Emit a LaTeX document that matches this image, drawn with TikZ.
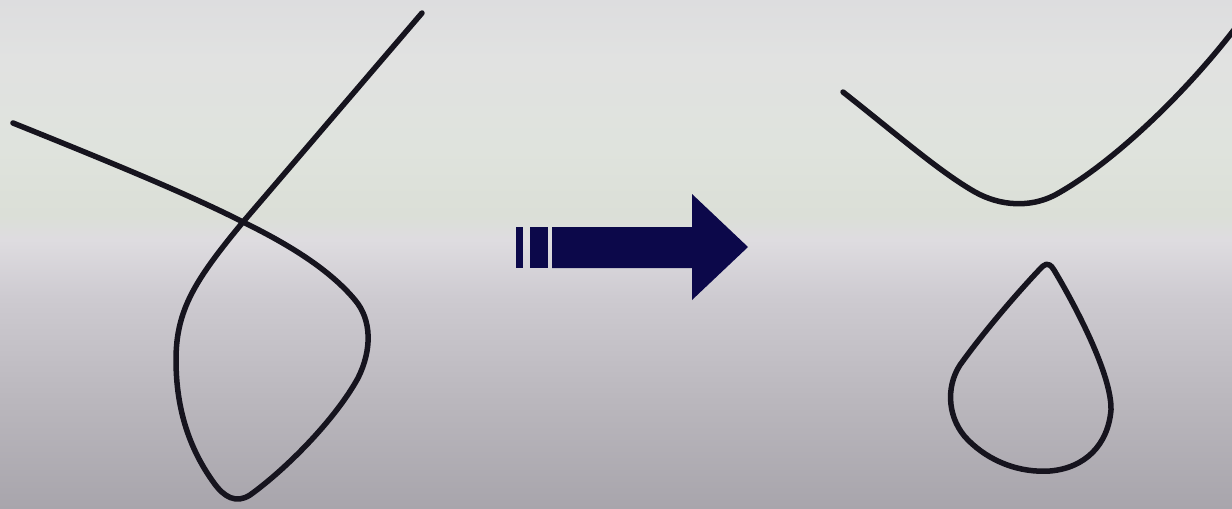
\documentclass[tikz,border=0pt]{standalone}
\definecolor{bgT}{RGB}{221,221,223}
\definecolor{bgA}{RGB}{225,226,225}
\definecolor{bgB}{RGB}{223,227,221}
\definecolor{bgC}{RGB}{219,223,215}
\definecolor{bgD}{RGB}{222,220,224}
\definecolor{bgE}{RGB}{205,202,208}
\definecolor{bgF}{RGB}{186,183,189}
\definecolor{bgG}{RGB}{168,165,172}
\definecolor{wire}{RGB}{22,20,30}
\definecolor{navy}{RGB}{12,8,74}
\pgfdeclareverticalshading{bgshade}{100bp}{%
 color(0bp)=(bgG);
 color(25bp)=(bgG);
 color(35.6bp)=(bgF);
 color(45.5bp)=(bgE);
 color(51.4bp)=(bgD);
 color(53.8bp)=(bgC);
 color(60.2bp)=(bgB);
 color(69.1bp)=(bgA);
 color(75bp)=(bgT);
 color(100bp)=(bgT)}
\tikzset{
  wirestyle/.style={draw=wire, line width=0.11cm, line cap=round, line join=round},
  arrowfill/.style={fill=navy, draw=none}
}
\begin{document}
\begin{tikzpicture}[x=0.02cm, y=-0.02cm]
\useasboundingbox (0,0) rectangle (1232,508);
\shade[shading=bgshade] (0,0) rectangle (1232,508);
\begin{scope}
\clip (0,0) rectangle (1232,508);
% left: crossing strand with loop
\draw[wirestyle] (13,123) .. controls (110,162) and (190,195) .. (243,222)
  .. controls (290,245) and (330,270) .. (355,300)
  .. controls (372,320) and (372,350) .. (358,378)
  .. controls (335,420) and (285,470) .. (250,495)
  .. controls (236,504) and (224,497) .. (214,483)
  .. controls (190,450) and (176,410) .. (176,360)
  .. controls (176,310) and (195,280) .. (243,222)
  -- (422,13);
% right: separated strand
\draw[wirestyle] (843,92) .. controls (900,137) and (940,172) .. (975,192)
  .. controls (1000,206) and (1030,208) .. (1055,195)
  .. controls (1110,165) and (1185,95) .. (1240,22);
% right: drop-shaped loop
\draw[wirestyle] (1040,269) .. controls (1020,290) and (985,330) .. (960,365)
  .. controls (945,388) and (948,420) .. (968,440)
  .. controls (990,462) and (1020,473) .. (1050,471)
  .. controls (1085,468) and (1108,445) .. (1111,410)
  .. controls (1112,375) and (1075,305) .. (1054,270)
  .. controls (1048,260) and (1044,265) .. (1040,269) -- cycle;
\end{scope}
% arrow
\fill[arrowfill] (552,227) -- (692,227) -- (692,194) -- (748,247)
  -- (692,300) -- (692,268) -- (552,268) -- cycle;
\fill[arrowfill] (516,227) rectangle (523,268);
\fill[arrowfill] (530,227) rectangle (548,268);
\end{tikzpicture}
\end{document}
